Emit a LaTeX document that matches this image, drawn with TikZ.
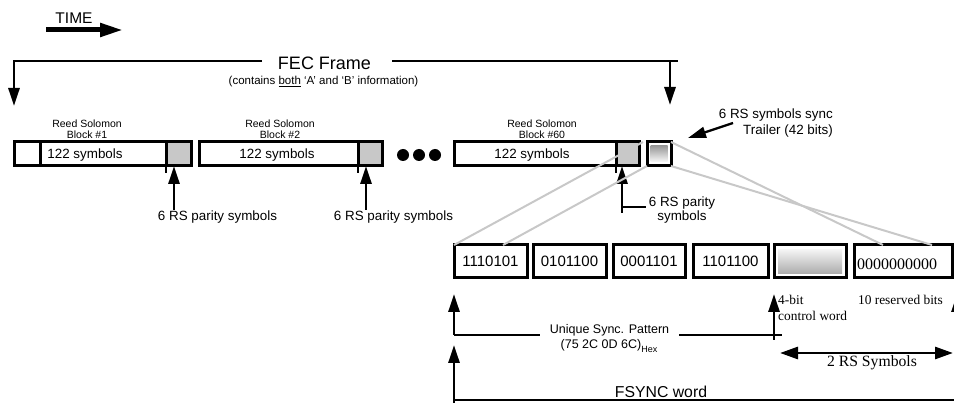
\documentclass[tikz,border=0pt]{standalone}
\usepackage{fontspec}
\setmainfont{Liberation Sans}
\newfontfamily\tnr{Liberation Serif}
\usetikzlibrary{arrows.meta}
\definecolor{pgray}{RGB}{200,200,200}
\definecolor{lgray}{RGB}{200,200,200}
\tikzset{
  blk/.style={draw, line width=3pt, inner sep=0pt, outer sep=0pt, anchor=north west, minimum height=24pt},
  par/.style={blk, anchor=north east, fill=pgray},
  sbox/.style={draw, line width=3pt, inner sep=0pt, outer sep=0pt, anchor=north west, minimum height=33pt},
  arr/.style={line width=2.8pt, -{Triangle[length=18pt,width=11pt]}},
  darr/.style={line width=2.8pt, {Triangle[length=18pt,width=12pt]}-{Triangle[length=18pt,width=12pt]}},
  ln/.style={line width=2.8pt},
  gl/.style={line width=2pt, lgray},
  lbl/.style={inner sep=0pt, font=\fontsize{13.4}{15}\selectfont},
  tinylbl/.style={inner sep=0pt, align=center, font=\fontsize{10.5}{11}\selectfont},
  sym/.style={inner sep=0pt, font=\fontsize{13.4}{15}\selectfont},
  bits/.style={inner sep=0pt, font=\fontsize{15}{17}\selectfont},
  ser/.style={inner sep=0pt, font=\tnr\fontsize{13.4}{16}\selectfont, align=left},
  dot/.style={circle, fill, inner sep=0pt, minimum size=12pt},
}
\begin{document}
\begin{tikzpicture}[x=1pt,y=-1pt]
\useasboundingbox (0,0) rectangle (954,403);

% TIME
\node[inner sep=0pt, font=\fontsize{15.5}{17}\selectfont] (time) at (74,18) {TIME};
\coordinate (t0) at (46,30);
\coordinate (t1) at (123,30);
\draw[line width=5pt, -{Triangle[length=23pt,width=13pt]}] (t0) -- (t1);

% FEC frame
\node[inner sep=0pt, font=\fontsize{18}{20}\selectfont] (fec) at (324.5,63) {FEC Frame};
\node[inner sep=0pt, font=\fontsize{11.5}{13}\selectfont] (fecsub) at (323.5,82) {(contains \underline{both} ‘A’ and ‘B’ information)};
\coordinate (fl0) at (262,61);
\coordinate (fL) at (14,106);
\coordinate (fr0) at (392,61);
\coordinate (fr1) at (678,61);
\coordinate (fR) at (670,105);
\draw[arr] (fl0) -| (fL);
\draw[ln] (fr0) -- (fr1);
\draw[arr] (fr0 -| fR) -- (fR);

% Block 1
\node[blk, minimum width=177pt] (b1) at (14,142) {};
\node[blk, minimum width=26pt] (c1) at (14,142) {};
\node[par, minimum width=25pt] (p1) at (191,142) {};
\draw[ln] (p1.south west) -- ++(0,7);
% Block 2
\node[blk, minimum width=183pt] (b2) at (199,142) {};
\node[par, minimum width=24pt] (p2) at (382,142) {};
\draw[ln] (p2.south west) -- ++(0,7);
% dots
\node[dot] (d1) at (403,155) {};
\node[dot] (d2) at (419,155) {};
\node[dot] (d3) at (435,155) {};
% Block 60
\node[blk, minimum width=185pt] (b60) at (454,142) {};
\node[par, minimum width=23pt] (p60) at (639,142) {};
\draw[ln] (p60.south west) -- ++(0,7);
% trailer
\node[blk, minimum width=24pt] (tr) at (647,142) {};
\node[inner sep=0pt, minimum width=17pt, minimum height=16pt, shading=axis, left color=gray!80, right color=gray!5, shading angle=0] (trin) at (tr.center) {};

% block labels
\node[tinylbl] (rs1) at (87,129.5) {Reed Solomon\\Block \#1};
\node[tinylbl] (rs2) at (280,129.5) {Reed Solomon\\Block \#2};
\node[tinylbl] (rs60) at (542,129.5) {Reed Solomon\\Block \#60};
\node[sym] (s1) at (85,155) {122 symbols};
\node[sym] (s2) at (277,155) {122 symbols};
\node[sym] (s60) at (532,155) {122 symbols};

% parity arrows
\node[lbl] (pl1) at (217.5,217) {6 RS parity symbols};
\node[lbl] (pl2) at (393.5,217) {6 RS parity symbols};
\coordinate (a1) at (174,210);
\coordinate (a2) at (366,210);
\draw[arr] (a1) -- (a1 |- p1.south);
\draw[arr] (a2) -- (a2 |- p2.south);
\node[lbl, align=center, font=\fontsize{13.4}{14.5}\selectfont] (pl60) at (682,210) {6 RS parity\\symbols};
\coordinate (a60) at (622,213);
\coordinate (a60h) at (646,207);
\draw[arr] (a60) -- (a60 |- p60.south);
\draw[ln] (a60 |- a60h) -- (a60h);

% trailer label
\node[lbl, align=right, anchor=east, font=\fontsize{13.4}{16}\selectfont] (trl) at (833,123) {6 RS symbols sync\\Trailer (42 bits)};
\coordinate (ta) at (733,123);
\coordinate (tt) at (688,138);
\draw[line width=2.3pt, -{Triangle[length=18pt,width=11pt]}] (ta) -- (tt);

% sync boxes
\node[sbox, minimum width=73pt] (q1) at (454,245) {};
\node[sbox, minimum width=73pt] (q2) at (533,245) {};
\node[sbox, minimum width=72pt] (q3) at (613,245) {};
\node[sbox, minimum width=75pt] (q4) at (693,245) {};
\node[sbox, minimum width=72pt] (q5) at (774,245) {};
\node[sbox, minimum width=98pt] (q6) at (854,245) {};
\node[bits] (v1) at (q1.center) {1110101};
\node[bits] (v2) at (q2.center) {0101100};
\node[bits] (v3) at (q3.center) {0001101};
\node[bits] (v4) at (q4.center) {1101100};
\node[inner sep=0pt, minimum width=64pt, minimum height=24pt, top color=gray!8, bottom color=gray!65] (q5in) at (q5.center) {};
\node[inner sep=0pt, anchor=west, font=\tnr\fontsize{16}{18}\selectfont] (v6) at (857,264) {0000000000};

% gray expansion lines
\coordinate (g1) at (643,142);
\draw[gl] (g1) -- (q1.north west);
\draw[gl] (tr.south west) -- (503,245);
\draw[gl] (tr.north east) -- (883,245);
\draw[gl] (tr.south east) -- (932,245);

% bottom annotations
\node[lbl, inner xsep=10pt, font=\fontsize{12.5}{14}\selectfont] (usp) at (609.5,330) {Unique Sync. Pattern};
\node[lbl, font=\fontsize{12.5}{14}\selectfont] (hex) at (609,346) {(75 2C 0D 6C)\raisebox{-0.35em}{\fontsize{9}{10}\selectfont Hex}};
\coordinate (u0) at (454,335);
\coordinate (u1) at (782,335);
\draw[arr, shorten >=16pt] (u0) -- (q1.south west);
\draw[ln] (u0) -- (usp.west |- u0);
\draw[ln] (usp.east |- u0) -- (u1);
\coordinate (cw0) at (774,340);
\draw[arr, shorten >=16pt] (cw0) -- (cw0 |- q5.south);
\node[ser, anchor=west] (cw) at (778,308) {4-bit\\control word};
\node[ser] (rb) at (900.5,300) {10 reserved bits};
\coordinate (r0) at (957,340);
\draw[arr, shorten >=16pt] (r0) -- (r0 |- q6.south);

\coordinate (da0) at (780,353);
\coordinate (da1) at (953,353);
\draw[darr] (da0) -- (da1);
\node[inner sep=0pt, font=\tnr\fontsize{15.7}{17}\selectfont] (rs) at (872,363) {2 RS Symbols};

\coordinate (fsL) at (454,403);
\coordinate (fsT) at (454,345);
\coordinate (fs0) at (454,400);
\coordinate (fs1) at (956,400);
\draw[arr] (fsL) -- (fsT);
\draw[ln] (fs0) -- (fs1);
\node[inner sep=0pt, font=\fontsize{15.8}{17}\selectfont] (fsync) at (661,392) {FSYNC word};
\end{tikzpicture}
\end{document}
